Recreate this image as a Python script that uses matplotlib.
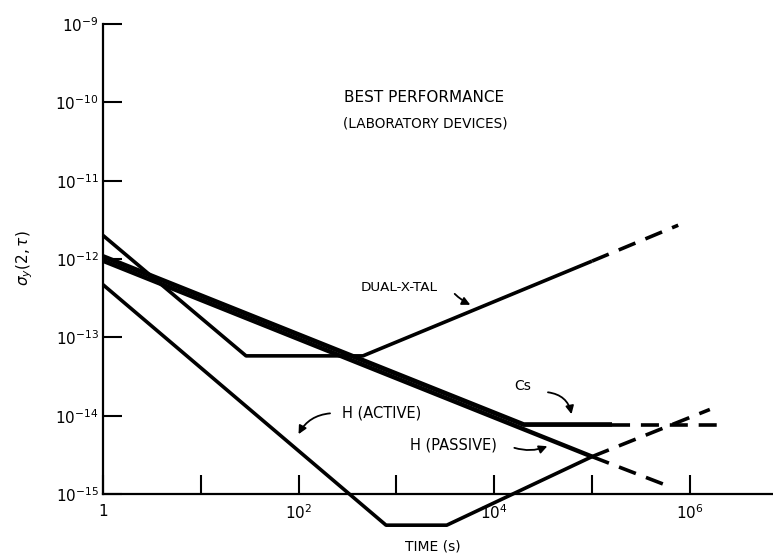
import matplotlib
matplotlib.use('Agg')
import matplotlib.pyplot as plt

# data (tau in s, sigma_y)
dual_x = [1, 29, 455, 1e5]
dual_y = [2.0e-12, 5.8e-14, 5.8e-14, 9.4e-13]
dual_dash_x = [1e5, 7.6e5]
dual_dash_y = [9.4e-13, 2.7e-12]

cs_x = [1, 2e4, 1.6e5]
cs_y = [1.08e-12, 7.7e-15, 7.7e-15]
cs_dash_x = [1.6e5, 2.2e6]
cs_dash_y = [7.7e-15, 7.7e-15]

hp_x = [1, 1e5]
hp_y = [9.5e-13, 3.0e-15]
hp_dash_x = [1e5, 6.7e5]
hp_dash_y = [3.0e-15, 1.2e-15]

ha_x = [1, 783, 3270, 1e5]
ha_y = [4.7e-13, 4.0e-16, 4.0e-16, 3.0e-15]
ha_dash_x = [1e5, 1.6e6]
ha_dash_y = [3.0e-15, 1.2e-14]

x_ticks = [1, 1e1, 1e2, 1e3, 1e4, 1e5, 1e6]
x_labels = ['1', '', '$10^2$', '', '$10^4$', '', '$10^6$']
y_ticks = [1e-15, 1e-14, 1e-13, 1e-12, 1e-11, 1e-10, 1e-9]
y_labels = ['$10^{-15}$', '$10^{-14}$', '$10^{-13}$', '$10^{-12}$',
            '$10^{-11}$', '$10^{-10}$', '$10^{-9}$']

plt.rcParams['font.family'] = ['DejaVu Sans']

fig = plt.figure(figsize=(7.73, 5.54), dpi=100)
ax = fig.add_axes([103 / 773, 60 / 554, 670 / 773, 470 / 554])
ax.set_xscale('log')
ax.set_yscale('log')
ax.set_xlim(1, 10 ** 6.85)
ax.set_ylim(1e-15, 1e-9)

lw = 2.6
dash = (5, 3)
# Cs and H (passive) overlap into one heavy band
for xs, ys, w in [(dual_x, dual_y, lw), (cs_x, cs_y, 3.4), (hp_x, hp_y, 3.2),
                  (ha_x, ha_y, lw)]:
    ax.plot(xs, ys, color='black', lw=w, solid_capstyle='butt', clip_on=False)
for xs, ys in [(dual_dash_x, dual_dash_y), (cs_dash_x, cs_dash_y),
               (hp_dash_x, hp_dash_y), (ha_dash_x, ha_dash_y)]:
    ax.plot(xs, ys, color='black', lw=lw, dashes=dash, clip_on=False)

for s in ['top', 'right']:
    ax.spines[s].set_visible(False)
for s in ['left', 'bottom']:
    ax.spines[s].set_linewidth(1.6)

ax.set_xticks(x_ticks)
ax.set_xticklabels(x_labels)
ax.set_yticks(y_ticks)
ax.set_yticklabels(y_labels)
ax.minorticks_off()
ax.tick_params(direction='in', length=13.5, width=1.5, labelsize=11)
ax.tick_params(axis='x', pad=7)
ax.tick_params(axis='y', pad=3)

ax.text(0.479, 0.843, 'BEST PERFORMANCE', transform=ax.transAxes,
        ha='center', va='center', fontsize=11)
ax.text(0.481, 0.789, '(LABORATORY DEVICES)', transform=ax.transAxes,
        ha='center', va='center', fontsize=9.8)
ax.text(0.384, 0.440, 'DUAL-X-TAL', transform=ax.transAxes,
        ha='left', va='center', fontsize=9.7)
ax.text(0.627, 0.230, 'Cs', transform=ax.transAxes,
        ha='center', va='center', fontsize=10)
ax.text(0.458, 0.104, 'H (PASSIVE)', transform=ax.transAxes,
        ha='left', va='center', fontsize=10.5)
ax.text(0.357, 0.172, 'H (ACTIVE)', transform=ax.transAxes,
        ha='left', va='center', fontsize=10.5)

arrows = [
    ((0.522, 0.430), (0.552, 0.400), 0.1),
    ((0.660, 0.217), (0.700, 0.164), -0.4),
    ((0.610, 0.100), (0.667, 0.104), 0.2),
    ((0.343, 0.172), (0.290, 0.122), 0.3),
]
for tail, head, rad in arrows:
    ax.annotate('', xy=head, xycoords='axes fraction', xytext=tail,
                textcoords='axes fraction',
                arrowprops=dict(arrowstyle='-|>', color='black', lw=1.3,
                                mutation_scale=12,
                                connectionstyle=f'arc3,rad={rad}'))

fig.text(25 / 773, 1 - 258 / 554, r'$\sigma_y(2,\tau)$', rotation=90,
         ha='center', va='center', fontsize=11)
fig.text(433 / 773, 1 - 547 / 554, 'TIME (s)', ha='center', va='center',
         fontsize=10)

fig.savefig('out.png', dpi=100)
